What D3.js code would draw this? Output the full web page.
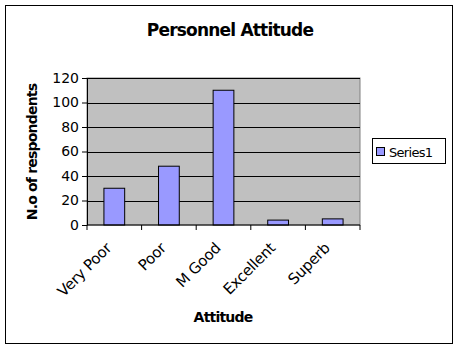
<!DOCTYPE html>
<html>
<head>
<meta charset="utf-8">
<script src="https://cdn.jsdelivr.net/npm/d3@7"></script>
<style>
  body { margin: 0; background: #fff; }
  text { font-family: "DejaVu Sans", Verdana, sans-serif; }
</style>
</head>
<body>
<svg id="canvas"></svg>
<script>
let width = 458,
height = 350

// data
let categories = ['Very Poor', 'Poor', 'M Good', 'Excellent', 'Superb']
let values = [30, 48, 110, 4, 5]
let yTicks = [0, 20, 40, 60, 80, 100, 120]
let seriesName = 'Series1'

let canvas = d3.select('#canvas')
.attr('width', width)
.attr('height', height)

// outer frame
canvas.append('rect')
.attr('x', 5.5).attr('y', 5.5)
.attr('width', 447).attr('height', 338)
.attr('fill', '#fff')
.attr('stroke', '#000')

let plot = {left: 87, right: 360, top: 78, bottom: 225}

let x = d3.scaleBand()
.domain(categories)
.range([plot.left, plot.right])
.paddingInner(0.62)
.paddingOuter(0.31)

let y = d3.scaleLinear()
.domain([0, 120])
.range([plot.bottom, plot.top])

// plot background
canvas.append('rect')
.attr('x', plot.left).attr('y', plot.top)
.attr('width', plot.right - plot.left).attr('height', plot.bottom - plot.top)
.attr('fill', '#c0c0c0')
.attr('stroke', '#808080')

// gridlines
canvas.append('g')
.selectAll('line')
.data(yTicks.filter(d => d > 0))
.join('line')
.attr('x1', plot.left).attr('x2', plot.right)
.attr('y1', d => Math.round(y(d)) + 0.5).attr('y2', d => Math.round(y(d)) + 0.5)
.attr('stroke', '#000')

// bars
canvas.append('g')
.selectAll('rect')
.data(values)
.join('rect')
.attr('x', (d, i) => x(categories[i]))
.attr('y', d => y(d))
.attr('width', x.bandwidth())
.attr('height', d => y(0) - y(d))
.attr('fill', '#9999ff')
.attr('stroke', '#000')

// y axis
let yAxis = canvas.append('g')
.attr('transform', `translate(${plot.left},0)`)
.call(d3.axisLeft(y).tickValues(yTicks).tickSize(5).tickSizeOuter(0))
yAxis.select('.domain').attr('stroke', '#000')
yAxis.selectAll('text').attr('font-size', 14).attr('fill', '#000')
.attr('font-family', '"DejaVu Sans", Verdana, sans-serif')

// x axis with ticks between categories
let xEdges = d3.range(categories.length + 1).map(i => plot.left + i * x.step())
let xAxis = canvas.append('g')
.attr('transform', `translate(0,${plot.bottom})`)
xAxis.append('line')
.attr('x1', plot.left).attr('x2', plot.right)
.attr('stroke', '#000')
xAxis.selectAll('.tk')
.data(xEdges)
.join('line')
.attr('class', 'tk')
.attr('x1', d => d).attr('x2', d => d)
.attr('y1', 0).attr('y2', 5)
.attr('stroke', '#000')
xAxis.selectAll('text')
.data(categories)
.join('text')
.attr('transform', d => `translate(${x(d) + x.bandwidth() / 2 - 2},${24}) rotate(-45)`)
.attr('text-anchor', 'end')
.attr('font-size', 15)
.attr('letter-spacing', -0.3)
.text(d => d)

// title
canvas.append('text')
.attr('x', 230).attr('y', 36)
.attr('text-anchor', 'middle')
.attr('font-size', 17).attr('font-weight', 'bold')
.attr('letter-spacing', -0.8)
.text('Personnel Attitude')

// axis titles
canvas.append('text')
.attr('x', 223).attr('y', 322)
.attr('text-anchor', 'middle')
.attr('font-size', 14).attr('font-weight', 'bold')
.attr('letter-spacing', -0.8)
.text('Attitude')

canvas.append('text')
.attr('transform', 'translate(37,152) rotate(-90)')
.attr('text-anchor', 'middle')
.attr('font-size', 14).attr('font-weight', 'bold')
.attr('letter-spacing', -0.8)
.text('N.o of respondents')

// legend
let legend = canvas.append('g')
legend.append('rect')
.attr('x', 372.5).attr('y', 138.5)
.attr('width', 73).attr('height', 25)
.attr('fill', '#fff').attr('stroke', '#000')
legend.append('rect')
.attr('x', 376.5).attr('y', 147.5)
.attr('width', 8).attr('height', 8)
.attr('fill', '#9999ff').attr('stroke', '#000')
legend.append('text')
.attr('x', 389).attr('y', 156.5)
.attr('font-size', 13)
.attr('letter-spacing', -0.7)
.text(seriesName)
</script>
</body>
</html>
